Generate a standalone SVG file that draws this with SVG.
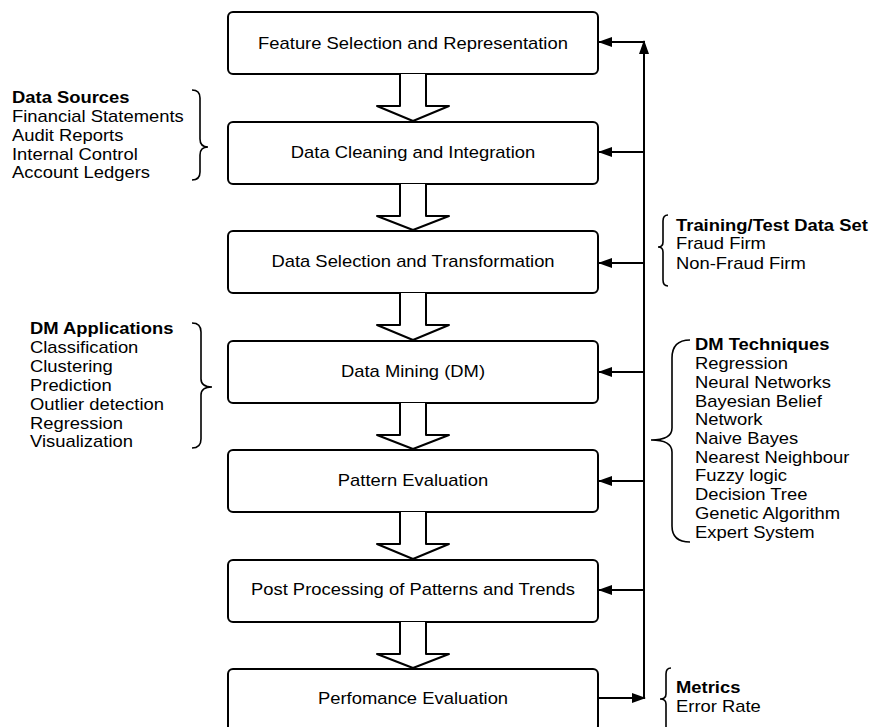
<svg xmlns="http://www.w3.org/2000/svg" width="871" height="727" viewBox="0 0 871 727">
<style>
.box{fill:#fff;stroke:#000;stroke-width:2}
.blk{fill:#fff;stroke:#000;stroke-width:2;stroke-linejoin:round}
.lbl{font-family:"Liberation Sans",Arial,sans-serif;font-size:16px;fill:#000;text-anchor:middle;dominant-baseline:central}
.side{font-family:"Liberation Sans",Arial,sans-serif;font-size:16px;fill:#000}
.b{font-weight:bold}
.line{fill:none;stroke:#000;stroke-width:2}
.brace{fill:none;stroke:#000;stroke-width:1.6}
</style>
<defs>
<marker id="ah" markerUnits="userSpaceOnUse" markerWidth="14" markerHeight="10" refX="13" refY="5" orient="auto">
<path d="M0,0 L14,5 L0,10 Z" fill="#000"/>
</marker>
</defs>
<rect width="871" height="727" fill="#fff"/>

<g id="n1"><rect class="box" x="228" y="12" width="370" height="62" rx="5"/><text class="lbl" transform="translate(413,43) scale(1.15,1)">Feature Selection and Representation</text></g>
<g id="n2"><rect class="box" x="228" y="122" width="370" height="62" rx="5"/><text class="lbl" transform="translate(413,152) scale(1.15,1)">Data Cleaning and Integration</text></g>
<g id="n3"><rect class="box" x="228" y="231" width="370" height="62" rx="5"/><text class="lbl" transform="translate(413,261) scale(1.15,1)">Data Selection and Transformation</text></g>
<g id="n4"><rect class="box" x="228" y="341" width="370" height="62" rx="5"/><text class="lbl" transform="translate(413,371) scale(1.15,1)">Data Mining (DM)</text></g>
<g id="n5"><rect class="box" x="228" y="450" width="370" height="62" rx="5"/><text class="lbl" transform="translate(413,480) scale(1.15,1)">Pattern Evaluation</text></g>
<g id="n6"><rect class="box" x="228" y="560" width="370" height="62" rx="5"/><text class="lbl" transform="translate(413,589) scale(1.15,1)">Post Processing of Patterns and Trends</text></g>
<g id="n7"><rect class="box" x="228" y="669" width="370" height="62" rx="5"/><text class="lbl" transform="translate(413,698) scale(1.15,1)">Perfomance Evaluation</text></g>

<g id="connectors">
<path class="blk" d="M400,74 L400,106 L377,106 L413,121 L449,106 L426,106 L426,74"/>
<path class="blk" d="M400,184 L400,216 L377,216 L413,230 L449,216 L426,216 L426,184"/>
<path class="blk" d="M400,293 L400,325 L377,325 L413,340 L449,325 L426,325 L426,293"/>
<path class="blk" d="M400,403 L400,435 L377,435 L413,449 L449,435 L426,435 L426,403"/>
<path class="blk" d="M400,512 L400,544 L377,544 L413,559 L449,544 L426,544 L426,512"/>
<path class="blk" d="M400,622 L400,654 L377,654 L413,668 L449,654 L426,654 L426,622"/>

<line class="line" x1="644" y1="699" x2="644" y2="41" marker-end="url(#ah)"/>
<line class="line" x1="644" y1="42" x2="599" y2="42" marker-end="url(#ah)"/>
<line class="line" x1="644" y1="152" x2="599" y2="152" marker-end="url(#ah)"/>
<line class="line" x1="644" y1="263" x2="599" y2="263" marker-end="url(#ah)"/>
<line class="line" x1="644" y1="372" x2="599" y2="372" marker-end="url(#ah)"/>
<line class="line" x1="644" y1="481" x2="599" y2="481" marker-end="url(#ah)"/>
<line class="line" x1="644" y1="590" x2="599" y2="590" marker-end="url(#ah)"/>
<line class="line" x1="598" y1="698" x2="645" y2="698" marker-end="url(#ah)"/>
</g>

<g id="data-sources">
<path class="brace" d="M192,90 Q200,90 200,98 L200,139 Q200,147 208,147 Q200,147 200,155 L200,172 Q200,180 192,180"/>
<g transform="translate(12,0) scale(1.15,1)">
<text class="side b" x="0" y="103">Data Sources</text>
<text class="side" x="0" y="122">Financial Statements</text>
<text class="side" x="0" y="141">Audit Reports</text>
<text class="side" x="0" y="160">Internal Control</text>
<text class="side" x="0" y="178">Account Ledgers</text>
</g>
</g>

<g id="dm-applications">
<path class="brace" d="M192,323 Q201,323 201,332 L201,379 Q201,387 212,387 Q201,387 201,395 L201,439 Q201,448 192,448"/>
<g transform="translate(30,0) scale(1.15,1)">
<text class="side b" x="0" y="334">DM Applications</text>
<text class="side" x="0" y="353">Classification</text>
<text class="side" x="0" y="372">Clustering</text>
<text class="side" x="0" y="391">Prediction</text>
<text class="side" x="0" y="410">Outlier detection</text>
<text class="side" x="0" y="429">Regression</text>
<text class="side" x="0" y="447">Visualization</text>
</g>
</g>

<g id="training-set">
<path class="brace" d="M668,215 Q663,215 663,221 L663,242 Q663,247 658,247 Q663,247 663,252 L663,280 Q663,286 668,286"/>
<g transform="translate(676,0) scale(1.15,1)">
<text class="side b" x="0" y="231">Training/Test Data Set</text>
<text class="side" x="0" y="249">Fraud Firm</text>
<text class="side" x="0" y="269">Non-Fraud Firm</text>
</g>
</g>

<g id="dm-techniques">
<path class="brace" d="M690,340 Q672,340 672,358 L672,428 Q672,440 651,440 Q672,440 672,452 L672,526 Q672,542 690,542"/>
<g transform="translate(695,0) scale(1.15,1)">
<text class="side b" x="0" y="350">DM Techniques</text>
<text class="side" x="0" y="369">Regression</text>
<text class="side" x="0" y="388">Neural Networks</text>
<text class="side" x="0" y="407">Bayesian Belief</text>
<text class="side" x="0" y="425">Network</text>
<text class="side" x="0" y="444">Naive Bayes</text>
<text class="side" x="0" y="463">Nearest Neighbour</text>
<text class="side" x="0" y="481">Fuzzy logic</text>
<text class="side" x="0" y="500">Decision Tree</text>
<text class="side" x="0" y="519">Genetic Algorithm</text>
<text class="side" x="0" y="538">Expert System</text>
</g>
</g>

<g id="metrics">
<path class="brace" d="M671,668 Q666,668 666,674 L666,694 Q666,699 660,699 Q666,699 666,704 L666,740"/>
<g transform="translate(676,0) scale(1.15,1)">
<text class="side b" x="0" y="693">Metrics</text>
<text class="side" x="0" y="712">Error Rate</text>
</g>
</g>
</svg>
